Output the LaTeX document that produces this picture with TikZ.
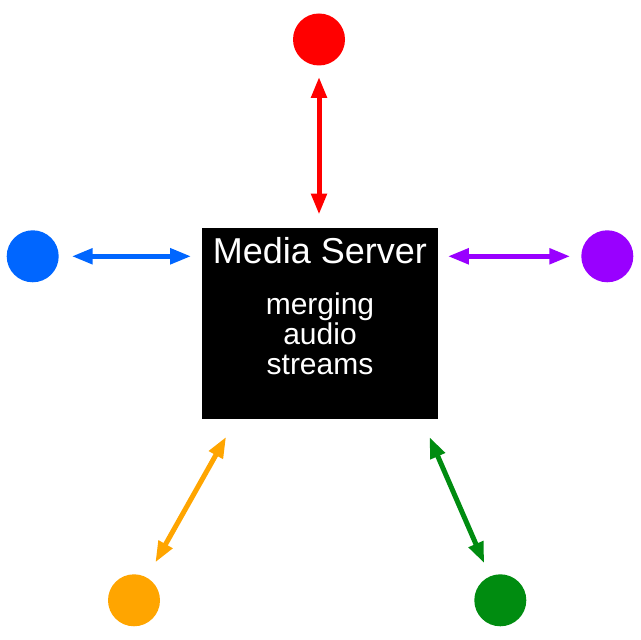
\documentclass[tikz,border=0pt]{standalone}
\usepackage{fontspec}
\setmainfont{Liberation Sans}
\usetikzlibrary{arrows.meta,calc}
\definecolor{cred}{HTML}{FF0000}
\definecolor{cblue}{HTML}{0066FF}
\definecolor{cpurple}{HTML}{9900FF}
\definecolor{corange}{HTML}{FFA500}
\definecolor{cgreen}{HTML}{008C10}
\tikzset{client/.style={circle, minimum size=26pt, inner sep=0pt},
         box/.style={fill=black, minimum width=118pt, minimum height=95.5pt, inner sep=0pt},
         caption/.style={text=white, anchor=base, align=center, inner sep=0pt},
         link/.style={line width=2.5pt, {Triangle[length=10.5pt,width=7.5pt]}-{Triangle[length=10.5pt,width=7.5pt]}}}

\begin{document}
\begin{tikzpicture}[x=0.5pt,y=0.5pt]
  \useasboundingbox (0,0) rectangle (640,640);
  \node[box] (server) at (320,316.5) {};
  \node[caption, font=\fontsize{18}{20}\selectfont] (title) at (320,376.5) {Media Server};
  \node[caption, font=\fontsize{15}{15}\selectfont] (task) at (320,265) {merging\\audio\\streams};

  \node[client, fill=cred]    (top)      at (319,600.5) {};
  \node[client, fill=cblue]   (left)     at (32.7,383.7) {};
  \node[client, fill=cpurple] (right)    at (607.3,383.7) {};
  \node[client, fill=corange] (lowleft)  at (134,39.7) {};
  \node[client, fill=cgreen]  (lowright) at (500.3,39.7) {};

  \coordinate (ll) at ($(server.south west)!0.145!(server.south east)$);
  \coordinate (lr) at ($(server.south west)!0.93!(server.south east)$);

  \draw[link, cred,    shorten <=5.5pt, shorten >=6.5pt] (top.south) -- (top.south |- server.north);
  \draw[link, cblue,   shorten <=6.3pt, shorten >=5.2pt] (left.east) -- (left.east -| server.west);
  \draw[link, cpurple, shorten <=4.7pt, shorten >=5.3pt] (right.west -| server.east) -- (right.west);
  \draw[link, corange, shorten <=8.5pt, shorten >=10pt]  (lowleft) -- (ll);
  \draw[link, cgreen,  shorten <=7pt,   shorten >=9.6pt] (lowright) -- (lr);
\end{tikzpicture}
\end{document}
